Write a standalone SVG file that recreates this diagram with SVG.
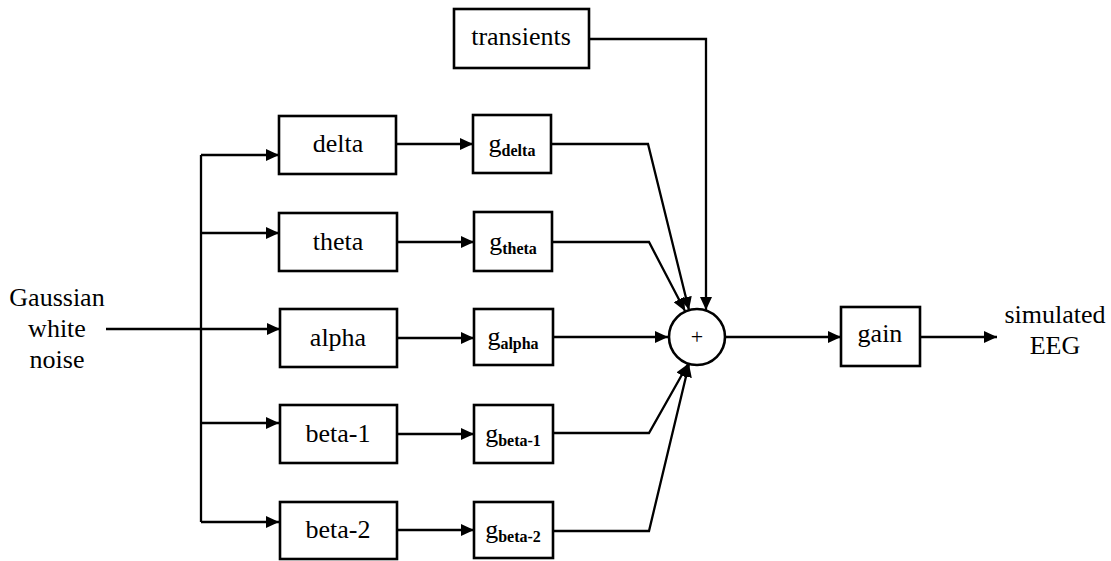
<svg xmlns="http://www.w3.org/2000/svg" width="1111" height="561" viewBox="0 0 1111 561" font-family="Liberation Serif, Tinos, Times New Roman, DejaVu Serif, serif">
<style>
.box{fill:#fff;stroke:#000;stroke-width:2.6}
.ln{fill:none;stroke:#000;stroke-width:2.3}
.t{font-size:26px;fill:#000;text-anchor:middle}
.s{font-size:16px;font-weight:bold}
</style>
<defs>
<marker id="ar" markerUnits="userSpaceOnUse" markerWidth="14" markerHeight="12" refX="13" refY="6" orient="auto">
<path d="M0,0 L13,6 L0,12 Z" fill="#000"/>
</marker>
</defs>
<rect width="1111" height="561" fill="#fff"/>
<g id="connectors">
<path class="ln" d="M106,329 H280" marker-end="url(#ar)"/>
<path class="ln" d="M201,155 V522"/>
<path class="ln" d="M201,155 H279" marker-end="url(#ar)"/>
<path class="ln" d="M201,233 H279" marker-end="url(#ar)"/>
<path class="ln" d="M201,423 H279" marker-end="url(#ar)"/>
<path class="ln" d="M201,522 H279" marker-end="url(#ar)"/>
<path class="ln" d="M396,144 H473" marker-end="url(#ar)"/>
<path class="ln" d="M397,242 H474" marker-end="url(#ar)"/>
<path class="ln" d="M397,338 H474" marker-end="url(#ar)"/>
<path class="ln" d="M397,434 H474" marker-end="url(#ar)"/>
<path class="ln" d="M397,530 H474" marker-end="url(#ar)"/>
<path class="ln" d="M551,144 H648 L689,310" marker-end="url(#ar)"/>
<path class="ln" d="M552,242 H649 L685,311" marker-end="url(#ar)"/>
<path class="ln" d="M553,337 H668" marker-end="url(#ar)"/>
<path class="ln" d="M553,433 H649 L688,364" marker-end="url(#ar)"/>
<path class="ln" d="M553,531 H649 L689,364" marker-end="url(#ar)"/>
<path class="ln" d="M589,39 H706 V310" marker-end="url(#ar)"/>
<path class="ln" d="M725,337 H841" marker-end="url(#ar)"/>
<path class="ln" d="M920,337 H997" marker-end="url(#ar)"/>
</g>
<g id="input">
<text class="t" x="57" y="306">Gaussian</text>
<text class="t" x="57" y="337">white</text>
<text class="t" x="57" y="368">noise</text>
</g>
<g id="delta"><rect class="box" x="279" y="116" width="117" height="58"/><text class="t" x="338" y="152">delta</text></g>
<g id="theta"><rect class="box" x="279" y="213" width="118" height="58"/><text class="t" x="338" y="250">theta</text></g>
<g id="alpha"><rect class="box" x="280" y="309" width="117" height="58"/><text class="t" x="338" y="346">alpha</text></g>
<g id="beta1"><rect class="box" x="280" y="405" width="117" height="58"/><text class="t" x="338" y="442">beta-1</text></g>
<g id="beta2"><rect class="box" x="280" y="502" width="117" height="57"/><text class="t" x="338" y="538">beta-2</text></g>
<g id="g-delta"><rect class="box" x="473" y="115" width="78" height="58"/><text class="t" x="512" y="152">g<tspan class="s" dy="4">delta</tspan></text></g>
<g id="g-theta"><rect class="box" x="474" y="212" width="78" height="59"/><text class="t" x="513" y="250">g<tspan class="s" dy="4">theta</tspan></text></g>
<g id="g-alpha"><rect class="box" x="474" y="309" width="79" height="56"/><text class="t" x="513" y="345">g<tspan class="s" dy="4">alpha</tspan></text></g>
<g id="g-beta1"><rect class="box" x="474" y="405" width="79" height="58"/><text class="t" x="513" y="442">g<tspan class="s" dy="4">beta-1</tspan></text></g>
<g id="g-beta2"><rect class="box" x="474" y="502" width="79" height="56"/><text class="t" x="513" y="538">g<tspan class="s" dy="4">beta-2</tspan></text></g>
<g id="transients"><rect class="box" x="454" y="9" width="135" height="59"/><text class="t" x="521" y="45">transients</text></g>
<g id="sum"><circle cx="697" cy="337" r="28" fill="#fff" stroke="#000" stroke-width="2.6"/><text x="697" y="344" font-size="22" text-anchor="middle">+</text></g>
<g id="gain"><rect class="box" x="841" y="307" width="79" height="59"/><text class="t" x="880" y="342">gain</text></g>
<g id="output">
<text class="t" x="1055" y="323">simulated</text>
<text class="t" x="1055" y="354">EEG</text>
</g>
</svg>
